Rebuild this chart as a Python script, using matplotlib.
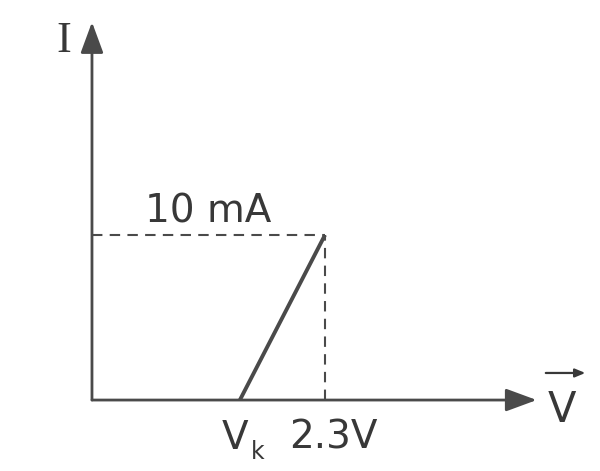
import numpy as np
import matplotlib
matplotlib.use("Agg")
import matplotlib.pyplot as plt

# diode characteristic
v_knee = 1.46      # V_k
v_point = 2.3      # V
i_point = 10.0     # mA
v_axis_end = 4.39
i_axis_end = 22.9

line_col = "#4a4a4a"
text_col = "#383838"

fig = plt.figure(figsize=(6, 4.71), dpi=100)
ax = fig.add_axes([0, 0, 1, 1])
ax.set_xlim(-0.908, 5.015)
ax.set_ylim(-4.30, 24.24)
ax.axis("off")

# axes with arrow heads
head = "-|>,head_length=1.9,head_width=0.7"
ax.annotate("", xy=(v_axis_end, 0), xytext=(0, 0),
            arrowprops=dict(arrowstyle=head, color=line_col, lw=2.0,
                            shrinkA=0, shrinkB=0))
ax.annotate("", xy=(0, i_axis_end), xytext=(0, 0),
            arrowprops=dict(arrowstyle=head, color=line_col, lw=2.0,
                            shrinkA=0, shrinkB=0))

# characteristic line
ax.plot([v_knee, v_point], [0, i_point], color=line_col, lw=2.8,
        solid_capstyle="butt")

# dashed guides
ax.plot([0, v_point], [i_point, i_point], color=line_col, lw=1.5,
        linestyle=(0, (5, 3.5)))
ax.plot([v_point, v_point], [0, i_point], color=line_col, lw=1.5,
        linestyle=(0, (5, 3.5)))

# labels
ax.text(-0.35, 21.1, "I", fontsize=32, family="Liberation Serif",
        color=text_col, ha="left", va="baseline")
ax.text(0.52, 10.75, "10 mA", fontsize=28, family="DejaVu Sans",
        color=text_col, ha="left", va="baseline")
ax.text(1.28, -2.95, "V", fontsize=28,
        family="DejaVu Sans", color=text_col, ha="left", va="baseline")
ax.text(1.57, -3.6, "k", fontsize=17,
        family="DejaVu Sans", color=text_col, ha="left", va="baseline")
ax.text(1.95, -2.95, "2.3V", fontsize=28, family="DejaVu Sans",
        color=text_col, ha="left", va="baseline")
ax.text(4.50, -1.35, "V", fontsize=30, family="DejaVu Sans",
        color=text_col, ha="left", va="baseline")
ax.annotate("", xy=(4.87, 1.64), xytext=(4.48, 1.64),
            arrowprops=dict(arrowstyle="-|>,head_length=0.6,head_width=0.25",
                            color=text_col, lw=1.6, shrinkA=0, shrinkB=0))

fig.savefig("out.png", dpi=100)
